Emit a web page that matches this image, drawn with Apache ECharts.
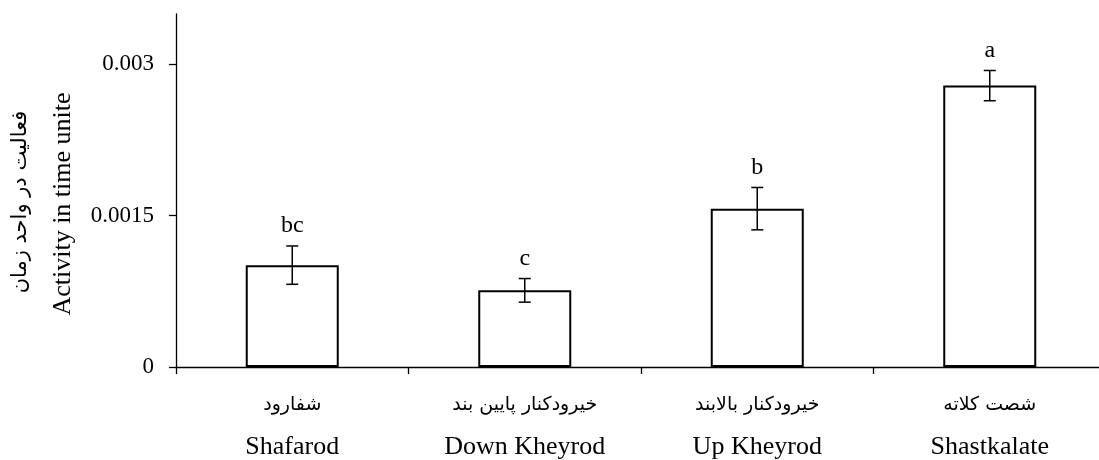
<!DOCTYPE html>
<html><head><meta charset="utf-8">
<script src="https://cdn.jsdelivr.net/npm/echarts@6/dist/echarts.min.js"></script>
<style>html,body{margin:0;padding:0;background:#fff}#c{width:1099px;height:460px}</style>
</head><body><div id="c"></div>
<script>
const categoriesEn = ['Shafarod', 'Down Kheyrod', 'Up Kheyrod', 'Shastkalate'];
const categoriesFa = ['شفارود', 'خیرودکنار پایین بند', 'خیرودکنار بالابند', 'شصت کلاته'];
const means = [0.00101, 0.00076, 0.00157, 0.00279];
const errors = [0.00019, 0.000117, 0.00021, 0.00015];
const letters = ['bc', 'c', 'b', 'a'];
const yTicks = [0, 0.0015, 0.003];
const yTitleEn = 'Activity in time unite';
const yTitleFa = 'فعالیت در واحد زمان';

const FONT = '"Liberation Serif", "DejaVu Serif", serif';
const FA_FONT = '"DejaVu Sans", "Noto Sans", sans-serif';
const chart = echarts.init(document.getElementById('c'));
const errData = means.map((m, i) => [i, m - errors[i], m + errors[i]]);
chart.setOption({
  animation: false,
  backgroundColor: '#fff',
  grid: { left: 176, top: 14, bottom: 93, width: 930, outerBoundsMode: 'none', containLabel: false },
  xAxis: {
    type: 'category',
    data: categoriesEn,
    axisLine: { lineStyle: { color: '#000', width: 1.3 } },
    axisTick: { show: true, length: 7, lineStyle: { color: '#000', width: 1.3 } },
    axisLabel: {
      margin: 16,
      formatter: (v, i) => '{fa|' + categoriesFa[i] + '}\n{en|' + v + '}',
      rich: {
        fa: { fontFamily: FA_FONT, fontSize: 19, color: '#000', lineHeight: 44 },
        en: { fontFamily: FONT, fontSize: 26, color: '#000', lineHeight: 40 }
      }
    }
  },
  yAxis: {
    type: 'value', min: 0, max: 0.0035,
    axisLine: { show: true, lineStyle: { color: '#000', width: 1.3 } },
    axisTick: { show: true, length: 7, customValues: yTicks, lineStyle: { color: '#000', width: 1.3 } },
    axisLabel: { customValues: yTicks, margin: 22, fontFamily: FONT, fontSize: 23, color: '#000' },
    splitLine: { show: false }
  },
  graphic: [
    { type: 'text', rotation: Math.PI / 2, x: 63, y: 204,
      style: { text: yTitleEn, font: '26px ' + FONT, fill: '#000', textAlign: 'center', textVerticalAlign: 'middle' } },
    { type: 'text', rotation: Math.PI / 2, x: 21, y: 202,
      style: { text: yTitleFa, font: '21px ' + FA_FONT, fill: '#000', textAlign: 'center', textVerticalAlign: 'middle' } }
  ],
  series: [
    {
      type: 'bar', data: means, barWidth: '40%',
      itemStyle: { color: '#fff', borderColor: '#000', borderWidth: 2 }
    },
    {
      type: 'custom', data: errData,
      renderItem: (params, api) => {
        const x = api.value(0);
        const lo = api.coord([x, api.value(1)]);
        const hi = api.coord([x, api.value(2)]);
        const cap = 6;
        const st = { stroke: '#000', lineWidth: 1.5 };
        return { type: 'group', children: [
          { type: 'line', shape: { x1: lo[0], y1: lo[1], x2: hi[0], y2: hi[1] }, style: st },
          { type: 'line', shape: { x1: lo[0] - cap, y1: lo[1], x2: lo[0] + cap, y2: lo[1] }, style: st },
          { type: 'line', shape: { x1: hi[0] - cap, y1: hi[1], x2: hi[0] + cap, y2: hi[1] }, style: st },
          { type: 'text', x: hi[0], y: hi[1] - 8,
            style: { text: letters[params.dataIndex], font: '24px ' + FONT, fill: '#000', textAlign: 'center', textVerticalAlign: 'bottom' } }
        ]};
      },
      z: 5
    }
  ]
});
</script></body></html>
